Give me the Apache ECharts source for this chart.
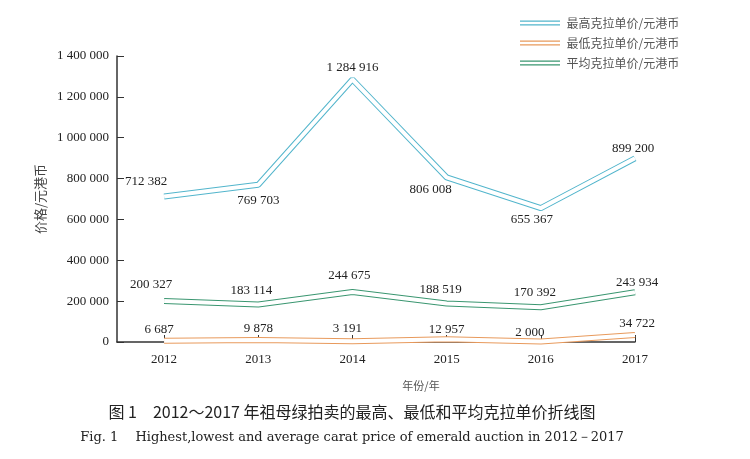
<!DOCTYPE html>
<html>
<head>
<meta charset="utf-8">
<script src="https://cdn.jsdelivr.net/npm/echarts@6/dist/echarts.min.js"></script>
<style>html,body{margin:0;padding:0;background:#fff;}#c{width:750px;height:459px;}</style>
</head>
<body>
<div id="c"></div>
<script>
var years = ['2012', '2013', '2014', '2015', '2016', '2017'];
var highest = [712382, 769703, 1284916, 806008, 655367, 899200];
var lowest = [6687, 9878, 3191, 12957, 2000, 34722];
var average = [200327, 183114, 244675, 188519, 170392, 243934];
var yTicks = [0, 200000, 400000, 600000, 800000, 1000000, 1200000, 1400000];
var seriesNames = ['最高克拉单价/元港币', '最低克拉单价/元港币', '平均克拉单价/元港币'];

// label placement (styling only)
var offHigh = [[-18, -15], [0, 16], [0, -12], [-16, 12], [-9, 11], [-2, -10]];
var offAvg = [[-13, -16], [-7, -14], [-3, -16], [-6, -14], [-6, -15], [2, -10]];
var offLow = [[-5, -11], [0, -11], [-5, -13], [0, -10], [-11, -9], [2, -11]];

var colors = ['#52b5cc', '#e89a5c', '#3a9670'];

function fmt(v) { return String(v).replace(/\B(?=(\d{3})+(?!\d))/g, ' '); }

var serif = '"Liberation Serif", "DejaVu Serif", serif';
var cjk = '"Noto Sans CJK SC", sans-serif';

function pts(vals) { return vals.map(function (v, i) { return [Number(years[i]), v]; }); }

function makePair(name, vals, color, offs) {
  var base = {
    name: name, type: 'line', data: pts(vals),
    symbol: 'none', silent: true, animation: false,
    lineStyle: { color: color, width: 6 }, itemStyle: { color: color },
    z: 2
  };
  var top = {
    name: name + '_inner', type: 'line',
    data: vals.map(function (v, i) {
      return {
        value: [Number(years[i]), v],
        label: { offset: offs[i] }
      };
    }),
    symbol: 'circle', symbolSize: 0.001, silent: true, animation: false,
    lineStyle: { color: '#ffffff', width: 4 }, itemStyle: { color: '#ffffff' },
    z: 3,
    label: {
      show: true, position: 'inside', color: '#222', fontFamily: serif, fontSize: 13,
      formatter: function (p) { return fmt(p.value[1]); }
    }
  };
  return [base, top];
}

var series = [].concat(
  makePair(seriesNames[0], highest, colors[0], offHigh),
  makePair(seriesNames[1], lowest, colors[1], offLow),
  makePair(seriesNames[2], average, colors[2], offAvg)
);

var chart = echarts.init(document.getElementById('c'), null, { renderer: 'canvas' });
chart.setOption({
  backgroundColor: '#ffffff',
  animation: false,
  grid: { left: 117, right: 115, top: 56, bottom: 117, containLabel: false },
  legend: {
    data: seriesNames,
    orient: 'vertical', left: 515, top: 12,
    itemWidth: 43, itemHeight: 5, itemGap: 8,
    icon: 'path://M0,0L40,0L40,1.2L0,1.2ZM0,3.8L40,3.8L40,5L0,5Z',
    textStyle: { fontFamily: cjk, fontSize: 12, color: '#555' },
    selectedMode: false
  },
  xAxis: {
    type: 'value', min: 2011.5, max: 2017,
    name: '年份/年', nameLocation: 'middle', nameGap: 38,
    nameTextStyle: { fontFamily: cjk, fontSize: 11, color: '#555', padding: [0, 0, 0, 90] },
    axisLine: { show: true, onZero: false, lineStyle: { color: '#333', width: 1.5 } },
    axisTick: { show: true, inside: true, length: 7, customValues: years.map(Number), lineStyle: { color: '#333' } },
    axisLabel: { customValues: years.map(Number), margin: 11, fontFamily: serif, fontSize: 13, color: '#222',
      formatter: function (v) { return String(v); } },
    splitLine: { show: false }
  },
  yAxis: {
    type: 'value', min: 0, max: 1400000, interval: 200000,
    name: '价格/元港币', nameLocation: 'middle', nameGap: 67, nameRotate: 90,
    nameTextStyle: { fontFamily: cjk, fontSize: 13, color: '#444' },
    axisLine: { show: true, lineStyle: { color: '#333', width: 1.5 } },
    axisTick: { show: true, inside: true, length: 7, lineStyle: { color: '#333' } },
    axisLabel: { margin: 8, fontFamily: serif, fontSize: 13, color: '#222',
      formatter: function (v) { return fmt(v); } },
    splitLine: { show: false }
  },
  graphic: [
    { type: 'text', x: 352, y: 412, style: {
      text: '图 1　2012～2017 年祖母绿拍卖的最高、最低和平均克拉单价折线图',
      font: '16px "Noto Sans CJK SC", sans-serif', fill: '#222',
      textAlign: 'center', textVerticalAlign: 'middle' } },
    { type: 'text', x: 352, y: 438, style: {
      text: 'Fig. 1　 Highest,lowest and average carat price of emerald auction in 2012－2017',
      font: '13px "DejaVu Serif", serif', fill: '#222',
      textAlign: 'center', textVerticalAlign: 'middle' } }
  ],
  series: series
});
</script>
</body>
</html>
